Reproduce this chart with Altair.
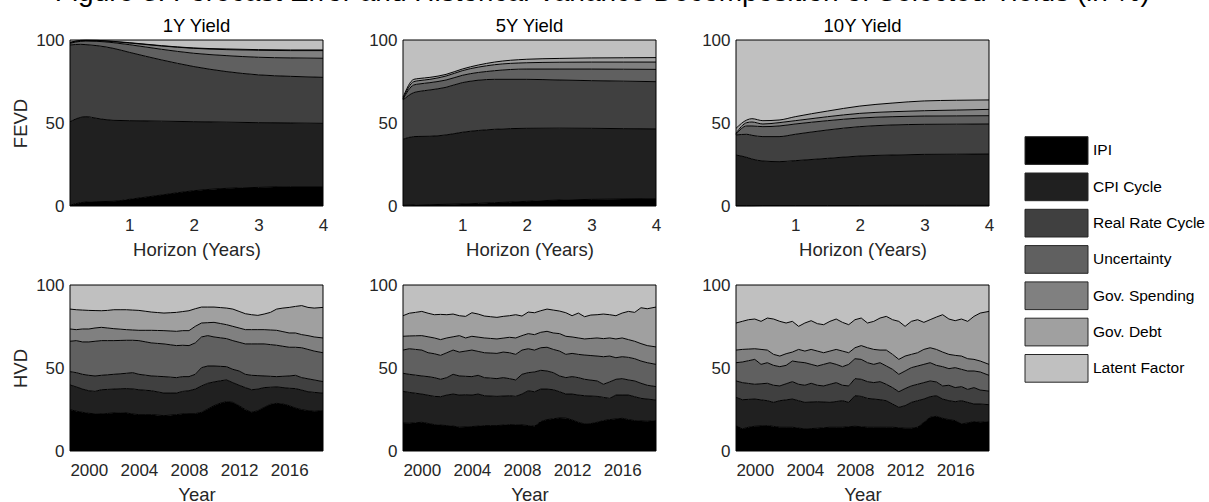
import altair as alt
import pandas as pd

FONT = "Liberation Sans"

factors = ["IPI", "CPI Cycle", "Real Rate Cycle", "Uncertainty",
           "Gov. Spending", "Gov. Debt", "Latent Factor"]
grays = ["#000000", "#202020", "#404040", "#606060", "#808080", "#a0a0a0", "#c0c0c0"]

# ---------- FEVD (cumulative upper boundary of each layer, in %) ----------
horizon = [0.0833, 0.25, 0.33, 0.5, 0.75, 1, 1.5, 2, 2.5, 3, 3.5, 4]

fevd1_ipi = [0.5, 2.0, 2.4, 2.6, 2.8, 4.0, 6.6, 9.2, 10.6, 11.2, 11.6, 11.6]
fevd1_cpi = [50.8, 53.4, 53.8, 52.8, 51.6, 51.4, 51.1, 50.8, 50.5, 50.2, 50.0, 49.8]
fevd1_real = [97.0, 97.4, 97.2, 96.6, 95.0, 92.6, 88.0, 84.0, 81.0, 79.0, 78.1, 77.5]
fevd1_unc = [98.0, 99.2, 99.3, 99.2, 98.4, 97.2, 94.4, 92.0, 90.6, 89.6, 89.2, 89.0]
fevd1_spend = [98.4, 99.6, 99.7, 99.6, 99.0, 98.2, 96.4, 95.0, 94.2, 93.8, 93.6, 93.6]
fevd1_debt = [98.6, 99.8, 99.9, 99.8, 99.2, 98.4, 96.6, 95.2, 94.6, 94.2, 94.0, 94.0]

fevd5_ipi = [0.4, 0.6, 0.7, 0.8, 1.0, 1.2, 2.0, 2.8, 3.6, 4.0, 4.2, 4.4]
fevd5_cpi = [40.2, 41.8, 41.9, 42.0, 42.8, 44.4, 46.2, 46.8, 46.9, 46.8, 46.6, 46.4]
fevd5_real = [63.9, 68.3, 69.0, 69.9, 71.5, 74.3, 76.3, 76.3, 75.9, 75.5, 75.2, 74.9]
fevd5_unc = [64.3, 72.9, 73.5, 74.3, 75.9, 78.7, 81.5, 82.5, 82.5, 82.5, 82.4, 82.3]
fevd5_spend = [64.7, 74.9, 75.5, 76.3, 78.3, 81.5, 85.1, 86.3, 86.6, 86.7, 86.7, 86.7]
fevd5_debt = [65.5, 76.3, 76.8, 77.5, 79.3, 82.5, 86.7, 88.4, 88.9, 89.2, 89.3, 89.4]

fevd10_ipi = [0.2, 0.2, 0.2, 0.3, 0.3, 0.3, 0.3, 0.3, 0.4, 0.4, 0.4, 0.4]
fevd10_cpi = [30.7, 29.3, 28.3, 27.1, 26.7, 27.3, 28.7, 30.1, 30.7, 31.1, 31.2, 31.3]
fevd10_real = [42.8, 43.2, 42.6, 41.8, 41.8, 43.2, 45.8, 47.8, 48.8, 49.2, 49.3, 49.4]
fevd10_unc = [43.2, 48.2, 48.2, 47.8, 48.2, 49.4, 51.4, 53.0, 53.8, 54.2, 54.3, 54.4]
fevd10_spend = [43.8, 50.2, 50.6, 49.4, 50.2, 51.4, 53.8, 55.8, 56.8, 57.4, 57.8, 58.2]
fevd10_debt = [46.8, 51.8, 52.6, 51.4, 51.8, 53.8, 57.2, 60.2, 62.0, 63.3, 63.7, 63.9]

# ---------- HVD (cumulative upper boundary of each layer, in %) ----------
years = [1998.5, 1999.0, 1999.5, 2000.0, 2000.5, 2001.0, 2001.5, 2002.0, 2002.5, 2003.0,
         2003.5, 2004.0, 2004.5, 2005.0, 2005.5, 2006.0, 2006.5, 2007.0, 2007.5, 2008.0,
         2008.5, 2009.0, 2009.5, 2010.0, 2010.5, 2011.0, 2011.5, 2012.0, 2012.5, 2013.0,
         2013.5, 2014.0, 2014.5, 2015.0, 2015.5, 2016.0, 2016.5, 2017.0, 2017.5, 2018.0,
         2018.7]

hvd1_ipi = [24.9, 24.0, 23.3, 22.7, 22.4, 22.3, 22.6, 22.9, 23.0, 22.9,
            22.3, 21.9, 21.9, 21.9, 21.6, 21.3, 21.6, 21.9, 22.3, 22.5,
            22.5, 23.3, 25.3, 27.3, 28.8, 29.7, 29.3, 27.3, 24.9, 23.3,
            24.3, 26.3, 28.1, 28.7, 28.3, 27.3, 25.9, 24.9, 24.3, 23.9, 24.3]
hvd1_cpi = [39.8, 38.6, 37.3, 36.3, 35.9, 36.9, 37.1, 37.3, 37.5, 37.6,
            37.4, 36.9, 36.6, 36.3, 35.6, 34.9, 34.9, 34.9, 35.9, 36.3,
            37.3, 39.2, 40.8, 41.6, 42.3, 42.8, 41.2, 39.6, 38.2, 36.9,
            37.3, 38.2, 38.4, 38.6, 38.2, 37.8, 37.6, 36.7, 35.7, 35.3, 34.9]
hvd1_real = [47.8, 47.2, 46.2, 45.6, 45.2, 45.6, 45.9, 46.2, 46.5, 46.8,
             47.2, 46.2, 45.7, 45.2, 45.0, 44.8, 44.5, 44.2, 44.8, 44.8,
             46.2, 50.2, 51.2, 51.2, 51.0, 50.8, 49.2, 48.2, 46.2, 45.6,
             45.4, 45.2, 45.0, 44.8, 45.0, 45.2, 45.6, 44.2, 43.5, 42.8, 41.8]
hvd1_unc = [66.1, 66.5, 65.7, 65.7, 66.1, 66.5, 66.5, 66.5, 66.6, 66.7,
            66.7, 66.5, 65.8, 65.1, 64.8, 64.5, 64.0, 63.5, 63.7, 63.5,
            65.1, 68.7, 69.5, 68.7, 68.2, 67.7, 66.5, 65.5, 64.5, 64.5,
            64.5, 64.5, 64.1, 63.7, 63.1, 62.5, 62.5, 62.2, 61.2, 60.2, 59.2]
hvd1_spend = [73.5, 73.1, 73.5, 73.5, 74.1, 74.5, 74.1, 73.7, 73.4, 73.1,
              72.9, 72.7, 72.7, 72.7, 72.6, 72.5, 72.3, 72.1, 72.5, 72.5,
              75.1, 77.1, 77.3, 77.5, 76.8, 76.1, 75.1, 74.1, 73.1, 73.1,
              73.1, 73.1, 72.9, 72.7, 71.9, 71.1, 71.1, 70.1, 69.5, 68.7, 68.1]
hvd1_debt = [85.5, 85.1, 84.9, 84.7, 84.6, 84.5, 84.7, 85.1, 85.1, 85.1,
             84.9, 84.7, 84.2, 83.7, 83.4, 83.1, 83.3, 83.5, 84.0, 84.5,
             85.7, 86.7, 86.7, 86.7, 86.4, 86.1, 85.5, 84.1, 82.7, 82.1,
             81.7, 82.5, 83.5, 85.5, 86.1, 86.5, 87.1, 87.6, 86.5, 86.1, 86.5]

hvd5_ipi = [16.9, 16.7, 17.0, 17.3, 16.6, 15.9, 15.6, 15.3, 15.0, 14.3,
            14.5, 14.7, 15.0, 15.3, 15.3, 15.3, 15.6, 15.9, 15.8, 15.7,
            15.3, 14.9, 17.7, 18.9, 19.4, 19.9, 19.8, 18.7, 17.3, 16.3,
            16.5, 17.3, 18.3, 18.9, 19.3, 19.7, 18.9, 18.3, 18.1, 17.9, 18.3]
hvd5_cpi = [35.9, 35.3, 34.8, 34.3, 33.6, 32.9, 32.7, 33.7, 34.3, 33.7,
            33.9, 33.7, 34.3, 33.3, 33.1, 32.9, 33.1, 33.3, 32.9, 34.3,
            36.3, 35.7, 37.3, 37.3, 36.9, 35.7, 34.3, 34.3, 33.7, 33.3,
            33.1, 32.9, 32.3, 31.7, 33.7, 33.7, 33.7, 32.7, 31.7, 31.3, 30.7]
hvd5_real = [46.8, 46.2, 45.7, 45.2, 44.8, 44.2, 43.2, 44.2, 46.2, 45.2,
             45.0, 44.8, 45.6, 44.2, 43.9, 43.6, 44.2, 43.6, 42.8, 46.2,
             47.2, 47.6, 48.6, 48.2, 47.2, 45.2, 44.2, 44.8, 44.2, 43.2,
             42.7, 42.2, 40.2, 41.6, 43.2, 43.6, 42.8, 42.2, 40.8, 39.6, 38.8]
hvd5_unc = [60.8, 61.6, 61.2, 60.8, 59.2, 58.6, 57.6, 59.2, 60.8, 59.6,
            60.2, 60.8, 60.0, 59.2, 59.0, 58.8, 59.6, 59.2, 58.2, 60.8,
            61.6, 60.8, 62.2, 62.5, 61.2, 60.2, 58.2, 58.8, 58.2, 57.8,
            57.5, 57.2, 56.8, 57.2, 56.2, 56.8, 56.4, 55.6, 54.2, 53.2, 52.2]
hvd5_spend = [69.1, 69.3, 69.4, 69.5, 68.8, 68.1, 67.1, 68.1, 68.8, 69.5,
              68.1, 69.1, 68.6, 68.1, 67.8, 67.5, 68.0, 68.5, 68.1, 69.5,
              70.7, 70.1, 71.5, 72.1, 71.1, 70.7, 69.1, 68.7, 68.1, 67.5,
              67.8, 68.1, 67.7, 68.1, 67.5, 68.1, 67.1, 66.1, 64.7, 63.5, 62.7]
hvd5_debt = [81.5, 83.0, 83.5, 84.1, 83.0, 82.1, 82.3, 82.1, 82.5, 81.5,
             81.1, 83.3, 82.5, 81.3, 80.9, 80.5, 81.1, 81.5, 82.1, 81.3,
             83.7, 83.3, 84.5, 85.5, 84.9, 84.3, 83.3, 81.5, 83.1, 80.9,
             81.9, 82.1, 82.5, 82.1, 81.5, 83.1, 84.1, 83.5, 86.3, 85.7, 86.7]

hvd10_ipi = [15.3, 13.3, 14.3, 14.9, 15.1, 15.3, 14.8, 14.3, 14.3, 14.3,
             13.8, 13.3, 13.5, 13.7, 14.0, 14.3, 14.3, 14.3, 14.6, 14.9,
             14.6, 14.3, 14.3, 14.3, 14.3, 14.3, 14.0, 13.7, 13.7, 14.3,
             17.3, 20.3, 20.9, 19.7, 18.9, 18.3, 16.3, 16.9, 17.7, 17.3, 17.7]
hvd10_cpi = [32.3, 30.9, 31.1, 31.3, 30.8, 30.3, 29.3, 30.3, 30.8, 31.3,
             30.3, 29.3, 29.5, 29.7, 29.5, 29.3, 29.8, 30.3, 29.3, 33.3,
             32.9, 31.7, 31.3, 30.9, 30.3, 28.3, 26.3, 27.3, 29.3, 30.3,
             31.3, 32.7, 33.3, 31.3, 30.3, 29.7, 30.3, 29.3, 28.3, 28.3, 27.9]
hvd10_real = [42.2, 41.2, 40.7, 40.2, 40.5, 40.8, 39.6, 39.2, 40.5, 41.8,
              40.2, 39.6, 40.8, 39.6, 39.2, 40.2, 41.2, 39.6, 39.2, 43.6,
              43.2, 41.8, 41.2, 41.8, 40.2, 38.2, 35.7, 37.6, 39.2, 40.2,
              41.2, 42.2, 41.6, 39.2, 39.6, 38.2, 38.8, 37.1, 38.2, 36.7, 36.1]
hvd10_unc = [53.2, 53.6, 54.4, 55.2, 52.2, 53.2, 51.6, 50.8, 51.6, 54.2,
             53.6, 53.2, 52.2, 51.2, 52.2, 53.2, 52.2, 50.8, 52.2, 55.6,
             55.2, 53.2, 52.2, 53.2, 51.2, 49.2, 46.2, 48.2, 50.2, 51.2,
             52.2, 53.2, 51.6, 50.8, 49.6, 50.2, 49.2, 48.2, 48.2, 47.6, 45.6]
hvd10_spend = [60.8, 61.2, 61.4, 61.6, 61.2, 60.8, 58.2, 57.2, 58.6, 59.6,
               61.2, 60.2, 61.2, 60.2, 59.2, 60.2, 61.2, 60.2, 59.2, 62.2,
               63.5, 62.2, 61.2, 60.8, 60.8, 58.2, 55.2, 57.2, 58.2, 59.2,
               61.2, 62.2, 61.2, 59.6, 58.2, 57.6, 57.2, 55.6, 55.2, 54.2, 52.2]
hvd10_debt = [77.1, 78.1, 79.1, 79.5, 78.1, 80.1, 79.5, 78.1, 77.1, 78.1,
              75.1, 77.1, 78.5, 76.7, 76.1, 78.1, 79.5, 77.5, 76.1, 79.1,
              80.1, 77.1, 78.1, 80.1, 81.1, 79.1, 78.1, 75.1, 78.1, 79.1,
              77.5, 79.1, 80.7, 82.1, 79.5, 78.5, 79.5, 78.1, 81.1, 83.1, 84.1]

horizon_ticks = [1, 2, 3, 4]
year_ticks = [2000, 2004, 2008, 2012, 2016]
y_ticks = [0, 50, 100]

W, H = 253, 166
COL_GAP, ROW_GAP = 80, 79


def long_df(xs, tops):
    rows = []
    lo = [0.0] * len(xs)
    for i, f in enumerate(factors):
        hi = tops[i] if i < len(tops) else [100.0] * len(xs)
        assert len(hi) == len(xs)
        for j, xv in enumerate(xs):
            rows.append({"x": xv, "lo": lo[j], "hi": hi[j], "factor": f, "k": i})
        lo = hi
    return pd.DataFrame(rows)


color_scale = alt.Scale(domain=factors, range=grays)


def panel(df, xdomain, xticks, xtitle, ytitle, interp, title=None):
    xs = alt.Scale(domain=xdomain, nice=False, zero=False)
    ys = alt.Scale(domain=[0, 100], nice=False)
    xax = alt.Axis(values=xticks, format="d", title=xtitle, labelFlush=False)
    yax = alt.Axis(values=y_ticks, title=ytitle)
    base = alt.Chart(df)
    area = base.mark_area(interpolate=interp).encode(
        x=alt.X("x:Q", scale=xs, axis=xax),
        y=alt.Y("lo:Q", scale=ys, axis=yax, stack=False),
        y2="hi:Q",
        color=alt.Color("factor:N", scale=color_scale, legend=None),
    )
    lines = base.transform_filter(alt.datum.k < 6).mark_line(
        color="black", strokeWidth=1, interpolate=interp
    ).encode(
        x=alt.X("x:Q", scale=xs, axis=xax),
        y=alt.Y("hi:Q", scale=ys, axis=yax),
        detail="factor:N",
    )
    frame = alt.Chart(pd.DataFrame({"f": [0]})).mark_rect(
        fillOpacity=0, stroke="black", strokeWidth=1
    ).encode(x=alt.value(0), x2=alt.value("width"), y=alt.value(0), y2=alt.value("height"))
    props = dict(width=W, height=H)
    if title:
        props["title"] = alt.TitleParams(title, fontSize=18.5, font=FONT, fontWeight="normal",
                                         color="black", offset=-23, frame="group",
                                         baseline="bottom")
    return alt.layer(area, lines, frame).properties(**props)


hdom = [0.0833, 4]
ydom = [1998.5, 2018.7]

p1 = panel(long_df(horizon, [fevd1_ipi, fevd1_cpi, fevd1_real, fevd1_unc, fevd1_spend, fevd1_debt]),
           hdom, horizon_ticks, "Horizon (Years)", "FEVD", "monotone", "1Y Yield")
p2 = panel(long_df(horizon, [fevd5_ipi, fevd5_cpi, fevd5_real, fevd5_unc, fevd5_spend, fevd5_debt]),
           hdom, horizon_ticks, "Horizon (Years)", "", "monotone", "5Y Yield")
p3 = panel(long_df(horizon, [fevd10_ipi, fevd10_cpi, fevd10_real, fevd10_unc, fevd10_spend, fevd10_debt]),
           hdom, horizon_ticks, "Horizon (Years)", "", "monotone", "10Y Yield")
p4 = panel(long_df(years, [hvd1_ipi, hvd1_cpi, hvd1_real, hvd1_unc, hvd1_spend, hvd1_debt]),
           ydom, year_ticks, "Year", "HVD", "linear")
p5 = panel(long_df(years, [hvd5_ipi, hvd5_cpi, hvd5_real, hvd5_unc, hvd5_spend, hvd5_debt]),
           ydom, year_ticks, "Year", "", "linear")
p6 = panel(long_df(years, [hvd10_ipi, hvd10_cpi, hvd10_real, hvd10_unc, hvd10_spend, hvd10_debt]),
           ydom, year_ticks, "Year", "", "linear")

# custom legend, placed in a 4th grid column of the top row (entries overflow the cell)
STEP = 36.3
LEG_X0 = 36 - COL_GAP          # swatches start 36 px right of the last panel
leg_df = pd.DataFrame({"factor": factors, "slot": list(range(len(factors)))})
leg_scale = alt.Scale(domain=[-96.7 / STEP, -96.7 / STEP + H / STEP], reverse=True,
                      nice=False, zero=False)
leg_base = alt.Chart(leg_df).transform_calculate(
    slot_end="datum.slot + 0.763", slot_mid="datum.slot + 0.38"
)
swatch = leg_base.mark_rect(stroke="#262626", strokeWidth=1).encode(
    y=alt.Y("slot:Q", scale=leg_scale, axis=None),
    y2="slot_end:Q",
    x=alt.value(LEG_X0), x2=alt.value(LEG_X0 + 63),
    fill=alt.Fill("factor:N", scale=color_scale, legend=None),
)
labels = leg_base.mark_text(
    align="left", baseline="middle", font=FONT, fontSize=15.5, color="black"
).encode(y=alt.Y("slot_mid:Q", scale=leg_scale, axis=None),
         x=alt.value(LEG_X0 + 68), text="factor:N")
legend = alt.layer(swatch, labels).properties(width=1, height=H)

chart = alt.concat(
    p1, p2, p3, legend, p4, p5, p6,
    columns=4, spacing={"row": ROW_GAP, "column": COL_GAP}, bounds="flush",
).properties(
    title=alt.TitleParams(
        "Figure 3: Forecast Error and Historical Variance Decomposition of Selected Yields (in %)",
        fontSize=28, font=FONT, fontWeight="normal", color="black", anchor="middle",
        baseline="bottom", offset=-18, dx=-6,
    ),
    padding={"left": 11, "top": -22, "right": 0, "bottom": 0},
    background="white",
).configure_view(strokeWidth=0).configure_axis(
    labelFont=FONT, labelFontSize=17, labelColor="#262626",
    titleFont=FONT, titleFontSize=18.5, titleFontWeight="normal", titleColor="#262626",
    ticks=False, domain=False, grid=False,
).configure_axisX(labelPadding=11, titlePadding=7).configure_axisY(labelPadding=6, titlePadding=5)

chart.save("out.html", embed_options={"renderer": "svg", "actions": False})
